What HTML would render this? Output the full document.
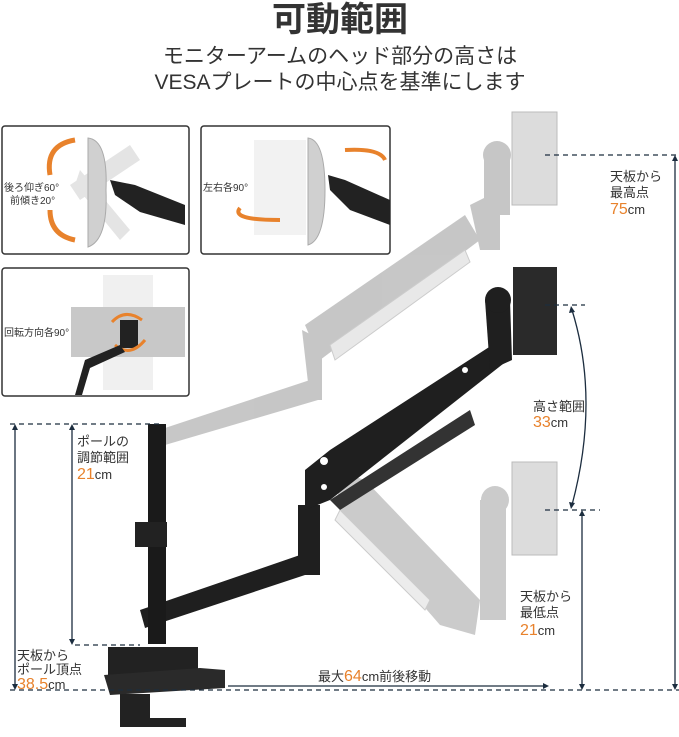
<!DOCTYPE html>
<html><head><meta charset="utf-8"><style>
html,body{margin:0;padding:0;background:#fff}
svg{display:block}
text{font-family:"Liberation Sans","Noto Sans CJK JP",sans-serif;fill:#333}
.o{fill:#e8822c}
</style></head><body>
<svg width="679" height="737" viewBox="0 0 679 737" xmlns="http://www.w3.org/2000/svg">
<text x="340" y="31" text-anchor="middle" font-size="34" font-weight="bold" fill="#222">可動範囲</text>
<text x="340" y="63" text-anchor="middle" font-size="21">モニターアームのヘッド部分の高さは</text>
<text x="340" y="89" text-anchor="middle" font-size="21">VESAプレートの中心点を基準にします</text>

<g stroke="#333" stroke-width="1.5" fill="#fff">
<rect x="2" y="126" width="187" height="128" rx="3"/>
<rect x="201" y="126" width="189" height="128" rx="3"/>
<rect x="2" y="268" width="187" height="128" rx="3"/>
</g>
<polygon points="70,185 130,145 140,160 80,200" fill="#e4e4e4"/>
<polygon points="80,170 130,230 120,240 75,185" fill="#e4e4e4"/>
<path d="M88,138 Q108,140 106,190 Q108,240 88,247 Z" fill="#d0d0d0" stroke="#aaa"/>
<path d="M110,180 L135,185 L185,205 L185,225 L140,212 L115,195Z" fill="#222"/>
<path d="M50,175 Q45,145 75,140" stroke="#e8822c" stroke-width="5" fill="none"/>
<path d="M50,210 Q50,235 75,240" stroke="#e8822c" stroke-width="5" fill="none"/>
<text x="4" y="191" font-size="10">後ろ仰ぎ60°</text>
<text x="10" y="204" font-size="10">前傾き20°</text>
<rect x="254" y="140" width="52" height="95" fill="#f2f2f2"/>
<path d="M308,138 Q325,140 325,190 Q325,240 308,245 Z" fill="#d0d0d0" stroke="#aaa"/>
<path d="M328,175 L345,180 L390,200 L390,225 L350,210 L330,190Z" fill="#222"/>
<path d="M385,160 Q380,148 345,150" stroke="#e8822c" stroke-width="4" fill="none"/>
<path d="M240,208 Q230,220 280,220" stroke="#e8822c" stroke-width="4" fill="none"/>
<text x="203" y="191" font-size="10">左右各90°</text>
<rect x="103" y="275" width="50" height="115" fill="#f0f0f0"/>
<rect x="71" y="307" width="114" height="50" fill="#c8c8c8"/>
<rect x="120" y="320" width="18" height="28" fill="#222"/>
<path d="M112,322 Q125,308 142,320" stroke="#e8822c" stroke-width="3" fill="none"/>
<path d="M115,345 Q130,358 145,340" stroke="#e8822c" stroke-width="3" fill="none"/>
<path d="M120,345 L85,360 L75,395 L82,395 L90,368 L125,352Z" fill="#222"/>
<text x="4" y="336" font-size="10">回転方向各90°</text>

<g fill="#bdbdbd" opacity="0.85">
<polygon points="165,428 310,380 318,400 165,445"/>
<polygon points="302,330 310,400 322,400 322,340"/>
<polygon points="305,325 465,215 480,240 320,360"/>
<polygon points="470,205 500,190 500,250 480,250"/>
<circle cx="497" cy="155" r="14"/>
<rect x="484" y="155" width="26" height="60"/>
</g>
<polygon points="330,345 465,250 470,262 335,360" fill="#e8e8e8" stroke="#ccc"/>
<rect x="512" y="112" width="45" height="93" fill="#dcdcdc" stroke="#bbb"/>
<g fill="#c2c2c2" opacity="0.85">
<polygon points="335,470 365,480 480,600 475,635 440,625 340,510"/>
<rect x="480" y="500" width="26" height="120"/>
<circle cx="495" cy="500" r="14"/>
</g>
<polygon points="340,510 430,600 425,610 335,520" fill="#ececec" stroke="#ccc"/>
<rect x="512" y="462" width="45" height="93" fill="#dcdcdc" stroke="#bbb"/>

<g fill="#1f1f1f">
<polygon points="140,610 300,555 305,575 145,628"/>
<rect x="298" y="505" width="22" height="70"/>
<polygon points="305,470 330,450 500,340 508,360 330,500 305,510"/>
<polygon points="485,300 510,300 512,360 490,370"/>
<circle cx="498" cy="300" r="13"/>
<rect x="513" y="267" width="44" height="88" fill="#2a2a2a"/>
<polygon points="330,500 470,410 475,425 340,510" fill="#333"/>
</g>
<circle cx="324" cy="461" r="4" fill="#fff"/><circle cx="324" cy="487" r="3" fill="#fff"/>
<circle cx="465" cy="370" r="3" fill="#fff"/>
<rect x="148" y="424" width="18" height="220" fill="#1a1a1a"/>
<rect x="135" y="522" width="32" height="25" fill="#222"/>
<rect x="108" y="647" width="90" height="40" fill="#222"/>
<polygon points="104,675 200,668 225,670 225,688 110,695" fill="#2a2a2a"/>
<rect x="120" y="694" width="30" height="32" fill="#222"/>
<rect x="120" y="718" width="66" height="9" fill="#222"/>

<g stroke="#1c2d3f" stroke-width="1.3" fill="none">
<line x1="10" y1="424" x2="160" y2="424" stroke-dasharray="5,4"/>
<line x1="10" y1="690" x2="679" y2="690" stroke-dasharray="5,4"/>
<line x1="75" y1="645" x2="140" y2="645" stroke-dasharray="5,4"/>
<line x1="545" y1="155" x2="679" y2="155" stroke-dasharray="5,4"/>
<line x1="545" y1="305" x2="585" y2="305" stroke-dasharray="5,4"/>
<line x1="545" y1="510" x2="600" y2="510" stroke-dasharray="5,4"/>
<line x1="15" y1="428" x2="15" y2="686"/>
<line x1="72" y1="428" x2="72" y2="641"/>
<line x1="582" y1="514" x2="582" y2="686"/>
<line x1="675" y1="159" x2="675" y2="686"/>
<line x1="228" y1="686" x2="545" y2="686"/>
<path d="M572,310 Q600,400 572,505"/>
</g>
<g fill="#1c2d3f">
<path d="M15,424 l-3,6 h6z"/><path d="M15,690 l-3,-6 h6z"/>
<path d="M72,424 l-3,6 h6z"/><path d="M72,645 l-3,-6 h6z"/>
<path d="M582,510 l-3,6 h6z"/><path d="M582,690 l-3,-6 h6z"/>
<path d="M675,155 l-3,6 h6z"/><path d="M675,690 l-3,-6 h6z"/>
<path d="M549,686 l-6,-3 v6z"/>
<path d="M571,306 l-2,7 l6,-1z"/><path d="M571,509 l-2,-7 l6,1z"/>
</g>

<g font-size="13">
<text x="610" y="181">天板から</text><text x="610" y="197">最高点</text>
<text x="610" y="214"><tspan class="o" font-size="16">75</tspan>cm</text>
<text x="533" y="411">高さ範囲</text>
<text x="533" y="427"><tspan class="o" font-size="16">33</tspan>cm</text>
<text x="77" y="446">ポールの</text><text x="77" y="462">調節範囲</text>
<text x="77" y="479"><tspan class="o" font-size="16">21</tspan>cm</text>
<text x="520" y="601">天板から</text><text x="520" y="617">最低点</text>
<text x="520" y="635"><tspan class="o" font-size="16">21</tspan>cm</text>
<text x="17" y="660">天板から</text><text x="17" y="674">ポール頂点</text>
<text x="17" y="689"><tspan class="o" font-size="16">38.5</tspan>cm</text>
<text x="318" y="681">最大<tspan class="o" font-size="16">64</tspan>cm前後移動</text>
</g>
</svg>
</body></html>
